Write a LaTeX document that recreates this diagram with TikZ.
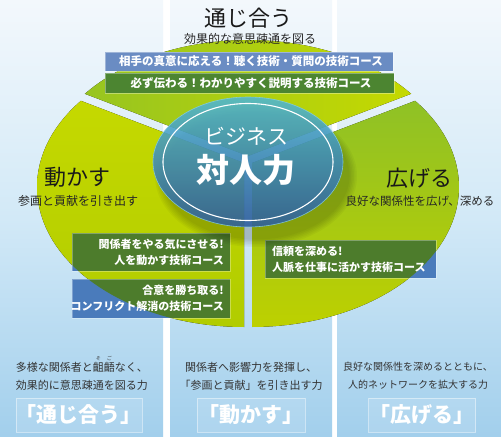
\documentclass[tikz,border=0pt]{standalone}
\usepackage{fontspec}
\setmainfont{Noto Sans CJK JP}
\usetikzlibrary{shapes.geometric, positioning}

\definecolor{panelTop}{HTML}{F3F8FC}
\definecolor{panelMid}{HTML}{D2E9F7}
\definecolor{panelBot}{HTML}{A2CFEC}
\definecolor{pieGreen}{HTML}{8FC126}
\definecolor{pieLime}{HTML}{C5D900}
\definecolor{pieLimeDark}{HTML}{B1CC00}
\definecolor{barBlue}{HTML}{6A8CC3}
\definecolor{barGreen}{HTML}{4C8531}
\definecolor{courseGreen}{HTML}{4D7C2C}
\definecolor{courseBlue}{HTML}{4A7BBB}
\definecolor{badgeTop}{HTML}{50B8D3}
\definecolor{badgeBot}{HTML}{2D5D9F}
\definecolor{inkGray}{HTML}{333333}

% furigana over one character
\newcommand{\furi}[2]{\ooalign{#1\cr\hidewidth\raisebox{0.95em}{\fontsize{5}{5}\selectfont #2}\hidewidth\cr}}

\tikzset{
  panel/.style={top color=panelTop, bottom color=panelBot, middle color=panelMid},
  topsector/.style={left color=pieGreen!85!pieLime, right color=pieLime},
  leftsector/.style={top color=pieLime, bottom color=pieLimeDark},
  rightsector/.style={top color=pieGreen, bottom color=pieLime!96!black},
  title/.style={font=\fontsize{22}{24}\selectfont, text=black!90, inner sep=0pt},
  subtitle/.style={font=\fontsize{12}{14}\selectfont, text=black!85, inner sep=0pt},
  bartext/.style={font=\bfseries\fontsize{11.5}{13}\selectfont, text=white, inner sep=0pt},
  coursetext/.style={font=\bfseries\fontsize{11}{16}\selectfont, text=white, inner sep=0pt},
  badge/.style={ellipse, minimum width=190pt, minimum height=130pt, inner sep=0pt,
    top color=badgeTop, bottom color=badgeBot, opacity=0.88, draw=badgeTop!70!white, line width=0.6pt},
  badgerim/.style={ellipse, minimum width=170pt, minimum height=117pt, inner sep=0pt, draw=white, line width=1.1pt},
  desc/.style={text=inkGray, align=center, inner sep=0pt},
  biglabel/.style={font=\bfseries\fontsize{21}{24}\selectfont, text=white, draw=white, draw opacity=0.45,
    fill=white, fill opacity=0.12, text opacity=1, minimum height=34pt, inner sep=0pt}
}

\begin{document}
\begin{tikzpicture}[x=1pt, y=-1pt]
  \useasboundingbox (0,0) rectangle (501,439);
  % Background panels
  \fill[white] (0,0) rectangle (501,439);
  \foreach \xa/\xb in {0/163, 170/332, 337/501}
    \fill[panel] (\xa,0) rectangle (\xb,436);

  % Pie sectors
  \fill[topsector, shift={(0,-4)}] (248,160) -- plot[domain=38:142, samples=50] ({248+207*cos(\x)}, {184-140*sin(\x)}) -- cycle;
  \fill[leftsector, shift={(-4,3)}] (248,160) -- plot[domain=142:270, samples=50] ({248+207*cos(\x)}, {184-140*sin(\x)}) -- cycle;
  \fill[rightsector, shift={(4,3)}] (248,160) -- plot[domain=-90:38, samples=50] ({248+207*cos(\x)}, {184-140*sin(\x)}) -- cycle;

  % Course boxes, blue over the panels, green over the pie
  \fill[courseBlue] (72,233) rectangle (230,271);
  \fill[courseBlue] (72,279) rectangle (230,318);
  \fill[courseBlue] (265,240) rectangle (436,278);
  \begin{scope}
    \clip[shift={(-4,3)}] (248,160) -- plot[domain=142:270, samples=50] ({248+207*cos(\x)}, {184-140*sin(\x)}) -- cycle;
    \fill[courseGreen] (72,233) rectangle (230,271);
    \fill[courseGreen] (72,279) rectangle (230,318);
  \end{scope}
  \begin{scope}
    \clip[shift={(4,3)}] (248,160) -- plot[domain=-90:38, samples=50] ({248+207*cos(\x)}, {184-140*sin(\x)}) -- cycle;
    \fill[courseGreen] (265,240) rectangle (436,278);
  \end{scope}
  \foreach \ya/\yb in {233/271, 279/318}
    \draw[white, opacity=0.3] (72,\ya) rectangle (230,\yb);
  \draw[white, opacity=0.3] (265,240) rectangle (436,278);

  % Top course bars
  \fill[barBlue] (105,52) rectangle (393,71);
  \fill[barGreen] (105,73) rectangle (394,93);
  \draw[white, opacity=0.35] (105,52) rectangle (393,71);
  \draw[white, opacity=0.35] (105,73) rectangle (394,93);

  % Badge shadow
  \foreach \i in {1,...,6}
    \fill[black, opacity=0.035] (256,176) ellipse [x radius=92+1.5*\i, y radius=62+1.5*\i];

  % Badge
  \node[badge] (badge) at (248,162) {};
  \node[badgerim] (rim) at (badge.center) {};
  \node[text=white, font=\fontsize{21}{24}\selectfont, inner sep=0pt] (biz) at (246,136) {ビジネス};
  \node[text=white, font=\bfseries\fontsize{33}{36}\selectfont, inner sep=0pt] (taijin) at (246,170) {対人力};

  % Sector titles
  \node[title] (connect) at (248,18) {通じ合う};
  \node[subtitle] (connectsub) at (250,39) {効果的な意思疎通を図る};
  \node[title] (move) at (77,177) {動かす};
  \node[subtitle] (movesub) at (78,201) {参画と貢献を引き出す};
  \node[title] (spread) at (419,178) {広げる};
  \node[subtitle, font=\fontsize{11.5}{14}\selectfont] (spreadsub) at (420,201) {良好な関係性を広げ、深める};

  % Course texts
  \node[bartext] (listen) at (251,61.5) {相手の真意に応える！聴く技術・質問の技術コース};
  \node[bartext] (explain) at (251,83) {必ず伝わる！わかりやすく説明する技術コース};
  \node[coursetext, align=right, anchor=east] (motivate) at (224,252) {関係者をやる気にさせる!\\人を動かす技術コース};
  \node[coursetext, align=right, anchor=east] (conflict) at (224,298.5) {合意を勝ち取る!\\コンフリクト解消の技術コース};
  \node[coursetext, align=left, anchor=west] (network) at (272,259) {信頼を深める!\\人脈を仕事に活かす技術コース};

  % Bottom descriptions
  \node[desc, font=\fontsize{11}{18}\selectfont] (desc1) at (82,376) {多様な関係者と\furi{齟}{そ}\furi{齬}{ご}なく、\\効果的に意思疎通を図る力};
  \node[desc, font=\fontsize{11}{18}\selectfont] (desc2) at (251,376) {関係者へ影響力を発揮し、\\「参画と貢献」を引き出す力};
  \node[desc, font=\fontsize{10}{18}\selectfont] (desc3) at (418,376) {良好な関係性を深めるとともに、\\人的ネットワークを拡大する力};
  \node[biglabel, minimum width=118pt] (lbl1) at (79,415) {「通じ合う」};
  \node[biglabel, minimum width=108pt] (lbl2) at (251,415) {「動かす」};
  \node[biglabel, minimum width=107pt] (lbl3) at (422,415) {「広げる」};
\end{tikzpicture}
\end{document}
